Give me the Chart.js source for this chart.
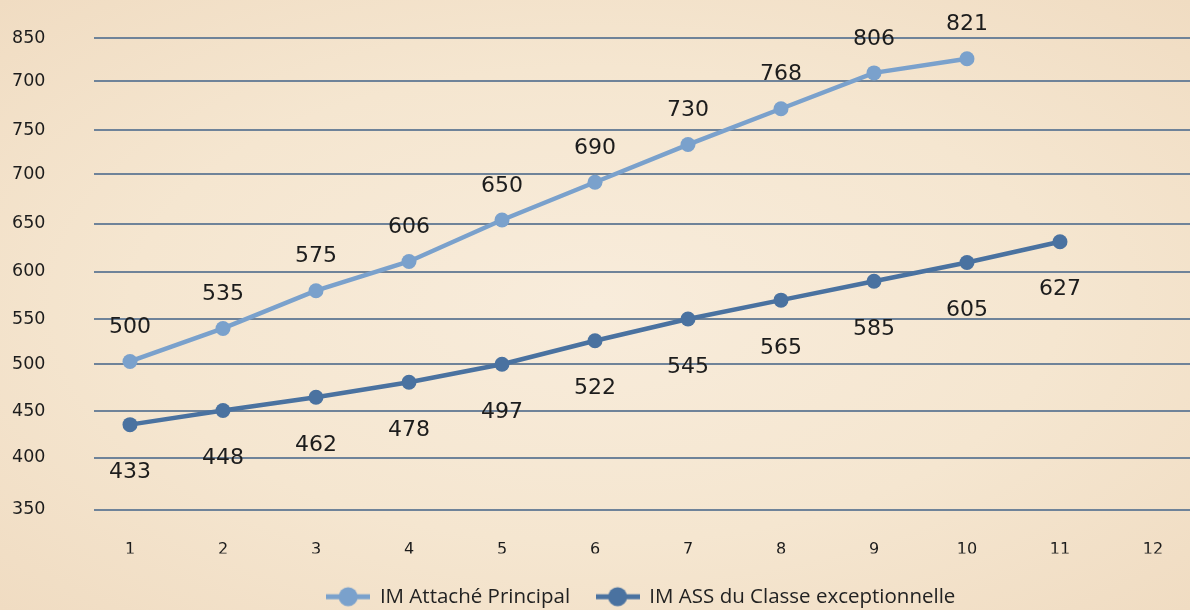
<!DOCTYPE html>
<html>
<head>
<meta charset="utf-8">
<script src="https://cdn.jsdelivr.net/npm/chart.js@4.4.1/dist/chart.umd.min.js"></script>
<style>
  html, body { margin: 0; padding: 0; overflow: hidden; }
  body {
    width: 1190px; height: 610px;
    background: radial-gradient(ellipse at 50% 50%, #f8ecdb 0%, #f5e6d0 55%, #f0dcc2 100%);
  }
  #wrap { position: relative; width: 1190px; height: 610px; }
</style>
</head>
<body>
<div id="wrap"><canvas id="c"></canvas></div>
<script>
// ---- data ----
const xCategories = [1, 2, 3, 4, 5, 6, 7, 8, 9, 10, 11, 12];
const attacheLabel = "IM Attaché Principal";
const attacheValues = [500, 535, 575, 606, 650, 690, 730, 768, 806, 821];
const assLabel = "IM ASS du Classe exceptionnelle";
const assValues = [433, 448, 462, 478, 497, 522, 545, 565, 585, 605, 627];
// axis ticks as printed on the original (values where the gridlines sit, and their labels)
const yTickValues = [343, 398, 447, 497, 545, 595, 646, 698.5, 745, 797, 843];
const yTickLabels = ["350", "400", "450", "500", "550", "600", "650", "700", "750", "700", "850"];

// ---- styles ----
const lightBlue = '#7aa1cc';
const darkBlue = '#4a72a0';
const gridColor = '#6f8399';
const textColor = '#1c1c1c';

function makeMarker(color) {
  const c = document.createElement('canvas');
  c.width = 44; c.height = 22;
  const g = c.getContext('2d');
  g.strokeStyle = color; g.lineWidth = 5;
  g.beginPath(); g.moveTo(0, 11); g.lineTo(44, 11); g.stroke();
  g.fillStyle = color;
  g.beginPath(); g.arc(22, 11, 9.5, 0, Math.PI * 2); g.fill();
  return c;
}
const markers = [makeMarker(lightBlue), makeMarker(darkBlue)];

const toPoints = (vals) => vals.map((v, i) => ({ x: xCategories[i], y: v }));

const valueLabels = {
  id: 'valueLabels',
  afterDatasetsDraw(chart) {
    const ctx = chart.ctx;
    ctx.save();
    ctx.font = '22px "DejaVu Sans"';
    ctx.fillStyle = textColor;
    ctx.textAlign = 'center';
    ctx.textBaseline = 'middle';
    chart.data.datasets.forEach((ds, di) => {
      const meta = chart.getDatasetMeta(di);
      const off = di === 0 ? -34 : 48;
      meta.data.forEach((pt, i) => {
        ctx.fillText(String(ds.data[i].y), pt.x, pt.y + off);
      });
    });
    ctx.restore();
  }
};

const legendShift = {
  id: 'legendShift',
  afterLayout(chart) {
    const lg = chart.legend;
    if (!lg) return;
    lg.left += 40; lg.right += 40;
    lg.top += 7; lg.bottom += 7;
  }
};

new Chart(document.getElementById('c'), {
  type: 'line',
  data: {
    datasets: [
      {
        label: attacheLabel,
        data: toPoints(attacheValues),
        borderColor: lightBlue, backgroundColor: lightBlue,
        borderWidth: 4.5, pointRadius: 7.5, pointHoverRadius: 7.5,
        pointBackgroundColor: lightBlue, pointBorderWidth: 0,
        tension: 0
      },
      {
        label: assLabel,
        data: toPoints(assValues),
        borderColor: darkBlue, backgroundColor: darkBlue,
        borderWidth: 4.5, pointRadius: 7.5, pointHoverRadius: 7.5,
        pointBackgroundColor: darkBlue, pointBorderWidth: 0,
        tension: 0
      }
    ]
  },
  options: {
    responsive: true,
    maintainAspectRatio: false,
    animation: false,
    layout: { autoPadding: false, padding: { top: 38, left: 12, right: 0, bottom: 0 } },
    scales: {
      x: {
        type: 'linear',
        min: 0.613, max: 12.398,
        afterBuildTicks(scale) { scale.ticks = xCategories.map(v => ({ value: v })); },
        afterFit(scale) { scale.height = 44; scale.paddingRight = 0; scale.paddingLeft = 0; },
        grid: { display: false, drawTicks: false },
        border: { display: false },
        ticks: {
          padding: 31,
          color: textColor,
          font: { family: 'DejaVu Sans', size: 16 },
          callback: (v, i) => String(xCategories[i])
        }
      },
      y: {
        type: 'linear',
        min: yTickValues[0], max: yTickValues[yTickValues.length - 1],
        afterBuildTicks(scale) { scale.ticks = yTickValues.map(v => ({ value: v })); },
        afterFit(scale) { scale.width = 82; },
        grid: { color: gridColor, lineWidth: 2, drawTicks: false },
        border: { display: false },
        ticks: {
          crossAlign: 'far',
          color: textColor,
          font: { family: 'DejaVu Sans', size: 17.5 },
          callback: (v, i) => yTickLabels[i]
        }
      }
    },
    plugins: {
      tooltip: { enabled: false },
      legend: {
        position: 'bottom',
        labels: {
          usePointStyle: true,
          pointStyleWidth: 43,
          padding: 26,
          color: '#222',
          font: { family: 'Open Sans', size: 20.5 },
          generateLabels(chart) {
            const items = Chart.defaults.plugins.legend.labels.generateLabels(chart);
            items.forEach((it, i) => { it.pointStyle = markers[i]; });
            return items;
          }
        }
      }
    }
  },
  plugins: [valueLabels, legendShift]
});
</script>
</body>
</html>
